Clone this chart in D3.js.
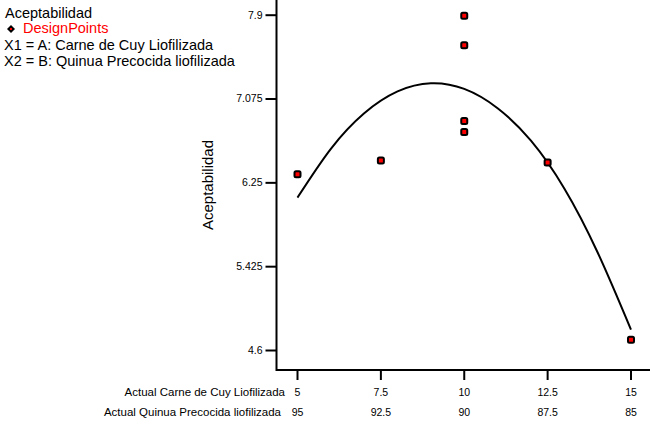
<!DOCTYPE html>
<html>
<head>
<meta charset="utf-8">
<script src="https://cdn.jsdelivr.net/npm/d3@7"></script>
<style>
  body { margin: 0; background: #fff; }
  svg { display: block; font-family: "Liberation Sans", Arial, sans-serif; }
</style>
</head>
<body>
<svg id="chart" width="650" height="424"></svg>
<script>
// design points, Carne de Cuy (A) vs Aceptabilidad
let pointA = [5, 7.5, 10, 10, 10, 10, 12.5, 15];
let pointY = [6.33, 6.465, 7.89, 7.60, 6.855, 6.745, 6.445, 4.70];

// model curve
let curveA = [5, 6, 7, 8, 9, 10, 11, 12, 13, 14, 15];
let curveY = [6.10, 6.58, 6.93, 7.145, 7.225, 7.17, 6.98, 6.66, 6.19, 5.56, 4.80];

// tick labels
let ticksA = [5, 7.5, 10, 12.5, 15];
let ticksB = ['95', '92.5', '90', '87.5', '85'];
let ticksY = [4.6, 5.425, 6.25, 7.075, 7.9];

let legendLines = [
    'X1 = A: Carne de Cuy Liofilizada',
    'X2 = B: Quinua Precocida liofilizada',
];

let svg = d3.select('#chart');

let x = d3.scaleLinear().domain([5, 15]).range([297.5, 631]);
let y = d3.scaleLinear().domain([4.6, 7.9]).range([350, 14.7]);

let axisX = 276.5;   // left edge of plot
let axisY = 370;     // bottom edge of plot

// axes lines
svg.append('path')
    .attr('d', 'M' + axisX + ',0V' + axisY + 'H650')
    .attr('fill', 'none')
    .attr('stroke', '#000')
    .attr('stroke-width', 2);

// y axis ticks
let yAxis = svg.append('g')
    .attr('transform', 'translate(' + axisX + ',0)')
    .call(d3.axisLeft(y)
        .tickValues(ticksY)
        .tickFormat(d3.format(''))
        .tickSize(11)
        .tickPadding(3));
yAxis.select('.domain').remove();
yAxis.selectAll('line').attr('stroke-width', 2);
yAxis.selectAll('text')
    .attr('font-size', '10.5px')
    .attr('font-family', '"Liberation Sans", Arial, sans-serif')
    .attr('fill', '#000');

// x axis ticks, two rows of labels
let xAxis = svg.append('g');
xAxis.selectAll('line')
    .data(ticksA)
    .enter().append('line')
        .attr('x1', function(d){return x(d);})
        .attr('x2', function(d){return x(d);})
        .attr('y1', axisY)
        .attr('y2', axisY + 10)
        .attr('stroke', '#000')
        .attr('stroke-width', 2);
xAxis.selectAll('text.rowA')
    .data(ticksA)
    .enter().append('text')
        .attr('class', 'rowA')
        .attr('x', function(d){return x(d);})
        .attr('y', 396)
        .attr('text-anchor', 'middle')
        .attr('font-size', '10.5px')
        .text(function(d){return d;});
xAxis.selectAll('text.rowB')
    .data(ticksB)
    .enter().append('text')
        .attr('class', 'rowB')
        .attr('x', function(d, i){return x(ticksA[i]);})
        .attr('y', 416)
        .attr('text-anchor', 'middle')
        .attr('font-size', '10.5px')
        .text(function(d){return d;});
xAxis.append('text')
    .attr('x', 285)
    .attr('y', 396)
    .attr('text-anchor', 'end')
    .attr('font-size', '11.5px')
    .text('Actual Carne de Cuy  Liofilizada');
xAxis.append('text')
    .attr('x', 281)
    .attr('y', 416)
    .attr('text-anchor', 'end')
    .attr('font-size', '11.5px')
    .text('Actual Quinua Precocida liofilizada');

// y axis title
svg.append('text')
    .attr('transform', 'translate(213,185) rotate(-90)')
    .attr('text-anchor', 'middle')
    .attr('font-size', '15px')
    .text('Aceptabilidad');

// model curve
let line = d3.line()
    .x(function(d){return x(d[0]);})
    .y(function(d){return y(d[1]);})
    .curve(d3.curveNatural);
svg.append('path')
    .datum(d3.zip(curveA, curveY))
    .attr('d', line)
    .attr('fill', 'none')
    .attr('stroke', '#000')
    .attr('stroke-width', 2);

// design points
svg.append('g').selectAll('rect')
    .data(d3.zip(pointA, pointY))
    .enter().append('rect')
        .attr('x', function(d){return x(d[0]) - 3;})
        .attr('y', function(d){return y(d[1]) - 3;})
        .attr('width', 6)
        .attr('height', 6)
        .attr('rx', 1.5)
        .attr('fill', '#ff0000')
        .attr('stroke', '#000')
        .attr('stroke-width', 2);

// legend, top left
let legend = svg.append('g').attr('font-size', '14.5px');
legend.append('text')
    .attr('x', 5)
    .attr('y', 18)
    .text('Aceptabilidad');
legend.append('path')
    .attr('d', 'M11,25L15,29L11,33L7,29Z')
    .attr('fill', '#000');
legend.append('rect')
    .attr('x', 10)
    .attr('y', 28)
    .attr('width', 2)
    .attr('height', 2)
    .attr('fill', '#ff0000');
legend.append('text')
    .attr('x', 23)
    .attr('y', 33)
    .attr('fill', '#ff0000')
    .text('DesignPoints');
legend.selectAll('text.note')
    .data(legendLines)
    .enter().append('text')
        .attr('class', 'note')
        .attr('x', 4)
        .attr('y', function(d, i){return 50 + i * 16;})
        .text(function(d){return d;});
</script>
</body>
</html>
